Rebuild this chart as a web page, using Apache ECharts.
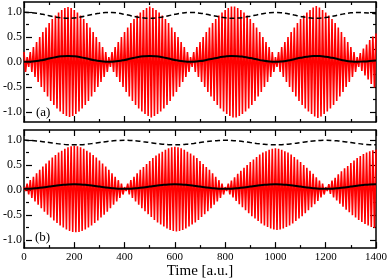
<!DOCTYPE html>
<html><head><meta charset="utf-8">
<script src="https://cdn.jsdelivr.net/npm/echarts@6/dist/echarts.min.js"></script>
<style>html,body{margin:0;padding:0;background:#fff}#c{width:390px;height:280px}</style>
</head><body><div id="c"></div>
<script>
// ---- data ----
const timeMax = 1400;
const xTickLabels = ['0','200','400','600','800','1000','1200','1400'];
const yTickLabels = ['-1.0','-0.5','0.0','0.5','1.0'];
const panelLabels = ['(a)', '(b)'];
const xTitle = 'Time [a.u.]';

// red fast oscillation: peak amplitude of each cycle (one cycle = 12.5 a.u.)
const cycleStep = 12.5;
const redAmpA = [
 0.20,0.10,
 0.20,0.30,0.40,0.50,0.60,0.69,0.78,0.86,0.93,0.99,1.04,1.08,1.10,
 1.08,1.04,0.99,0.93,0.86,0.78,0.69,0.60,0.50,0.40,0.30,0.20,0.10,
 0.20,0.30,0.40,0.50,0.60,0.69,0.78,0.86,0.93,0.99,1.04,1.08,1.11,
 1.08,1.04,0.99,0.93,0.86,0.78,0.69,0.60,0.50,0.40,0.30,0.20,0.10,
 0.20,0.30,0.40,0.50,0.60,0.69,0.78,0.86,0.93,0.99,1.04,1.08,1.11,1.11,
 1.08,1.04,0.99,0.93,0.86,0.78,0.69,0.60,0.50,0.40,0.30,0.20,0.10,
 0.20,0.30,0.40,0.50,0.60,0.69,0.78,0.86,0.93,0.99,1.04,1.09,1.12,
 1.09,1.04,0.99,0.93,0.86,0.78,0.69,0.60,0.50,0.40,0.30,0.20,0.10,
 0.18,0.27,0.35,0.44,0.51,0.57
];
const redAmpB = [
 0.04,
 0.11,0.18,0.25,0.32,0.39,0.46,0.52,0.58,0.64,0.69,0.74,0.78,0.82,0.85,0.87,0.88,
 0.87,0.85,0.82,0.78,0.74,0.69,0.64,0.58,0.52,0.46,0.39,0.32,0.25,0.18,0.11,0.04,
 0.11,0.18,0.25,0.32,0.39,0.45,0.51,0.57,0.63,0.68,0.72,0.76,0.80,0.83,0.85,0.86,
 0.85,0.83,0.80,0.76,0.72,0.68,0.63,0.57,0.51,0.45,0.39,0.32,0.25,0.18,0.11,0.04,
 0.11,0.17,0.24,0.31,0.37,0.43,0.49,0.55,0.60,0.65,0.70,0.74,0.77,0.80,0.82,0.83,
 0.82,0.80,0.77,0.74,0.70,0.65,0.60,0.55,0.49,0.43,0.37,0.31,0.24,0.17,0.11,0.04,
 0.10,0.17,0.23,0.30,0.36,0.42,0.47,0.53,0.58,0.63,0.67,0.71,0.74,0.77,0.79,0.80
];

// slow curves sampled every 25 a.u.
const slowStep = 25;
const blackA = [
 0.007,0.007,0.019,0.042,0.069,0.095,0.113,0.120,0.113,0.095,0.069,0.042,0.019,0.007,
 0.007,0.019,0.042,0.069,0.095,0.113,0.120,0.113,0.095,0.069,0.042,0.019,0.007,
 0.007,0.018,0.040,0.066,0.091,0.111,0.120,0.117,0.102,0.079,0.053,0.028,0.011,0.005,
 0.012,0.030,0.056,0.083,0.106,0.118,0.118,0.106,0.083,0.056,0.030,0.012,0.005,
 0.010,0.018,0.028
];
const dashA = [
 0.995,0.988,0.976,0.953,0.926,0.900,0.882,0.875,0.882,0.900,0.926,0.953,0.976,0.988,
 0.988,0.976,0.953,0.926,0.900,0.882,0.875,0.882,0.900,0.926,0.953,0.976,0.988,
 0.988,0.977,0.955,0.929,0.904,0.884,0.875,0.878,0.893,0.916,0.942,0.967,0.984,0.990,
 0.983,0.965,0.939,0.912,0.889,0.877,0.877,0.889,0.912,0.939,0.965,0.983,0.990,
 0.985,0.977,0.967
];
const blackB = [
 0.004,0.008,0.018,0.032,0.050,0.068,0.083,0.093,0.096,0.093,0.083,0.068,0.050,0.032,0.018,0.008,
 0.004,0.008,0.018,0.032,0.050,0.068,0.083,0.093,0.096,0.093,0.083,0.068,0.050,0.032,0.018,0.008,
 0.004,0.008,0.018,0.032,0.050,0.068,0.083,0.093,0.096,0.093,0.083,0.068,0.050,0.032,0.018,0.008,
 0.004,0.008,0.018,0.032,0.050,0.068,0.083,0.093,0.096
];
const dashB = [
 0.995,0.987,0.977,0.963,0.945,0.927,0.912,0.902,0.899,0.902,0.912,0.927,0.945,0.963,0.977,0.987,
 0.991,0.987,0.977,0.963,0.945,0.927,0.912,0.902,0.899,0.902,0.912,0.927,0.945,0.963,0.977,0.987,
 0.991,0.987,0.977,0.963,0.945,0.927,0.912,0.902,0.899,0.902,0.912,0.927,0.945,0.963,0.977,0.987,
 0.991,0.987,0.977,0.963,0.945,0.927,0.912,0.902,0.899
];

// ---- build series points ----
function zigzag(amps){
  const pts = [];
  amps.forEach((a,k)=>{
    pts.push([k*cycleStep, a]);
    pts.push([k*cycleStep + cycleStep/2, -a]);
  });
  return pts.filter(p=>p[0] <= timeMax);
}
function slow(vals){ return vals.map((v,i)=>[i*slowStep, v]); }

const FONT = 'Liberation Serif';
const frameLine = {show:true, onZero:false, lineStyle:{color:'#000', width:1.5}};
function xAx(grid, pos, labels, name){
  return {
    type:'value', gridIndex:grid, position:pos, min:0, max:timeMax, interval:200,
    axisLine: frameLine,
    axisTick:{show:true, inside:true, length:6, lineStyle:{color:'#000', width:1.2}},
    minorTick:{show:true, splitNumber:2, length:3, lineStyle:{color:'#000', width:1.2}},
    splitLine:{show:false}, minorSplitLine:{show:false},
    axisLabel:{show:labels, margin:4, color:'#000', fontFamily:FONT, fontSize:11,
      formatter:(v)=>xTickLabels[Math.round(v/200)]},
    name: name || '', nameLocation:'middle', nameGap:15,
    nameTextStyle:{fontFamily:FONT, fontSize:15, color:'#000', verticalAlign:'top'}
  };
}
function hiddenX(grid){ return {type:'value', gridIndex:grid, min:0, max:timeMax, show:false,
  axisLine:{show:false, onZero:false}}; }
function frameY(grid, pos){
  return {type:'value', gridIndex:grid, position:pos, min:-1.2, max:1.2,
    axisLine: frameLine, axisTick:{show:false}, axisLabel:{show:false},
    splitLine:{show:false}};
}
function tickY(grid, pos, labels){
  return {type:'value', gridIndex:grid, position:pos, min:-1, max:1, interval:0.5,
    axisLine:{show:false, onZero:false},
    axisTick:{show:true, inside:true, length:6, lineStyle:{color:'#000', width:1.2}},
    minorTick:{show:true, splitNumber:2, length:3, lineStyle:{color:'#000', width:1.2}},
    splitLine:{show:false}, minorSplitLine:{show:false},
    axisLabel:{show:labels, margin:4, color:'#000', fontFamily:FONT, fontSize:12,
      formatter:(v)=>yTickLabels[Math.round((v+1)/0.5)]}};
}

function panelSeries(xi, yi, red, black, dash){
  return [
    {type:'line', xAxisIndex:xi, yAxisIndex:yi, data:zigzag(red), showSymbol:false, symbol:'none',
      sampling:null, lineStyle:{color:'#ff0000', width:1.6}, z:2},
    {type:'line', xAxisIndex:xi, yAxisIndex:yi, data:slow(black), showSymbol:false, symbol:'none',
      smooth:true, lineStyle:{color:'#000', width:2}, z:3},
    {type:'line', xAxisIndex:xi, yAxisIndex:yi, data:slow(dash), showSymbol:false, symbol:'none',
      smooth:true, lineStyle:{color:'#000', width:1.5, type:[5,3]}, z:4}
  ];
}

const chart = echarts.init(document.getElementById('c'), null, {renderer:'canvas'});
chart.setOption({
  animation:false,
  backgroundColor:'#fff',
  grid:[
    {left:24, right:14, top:2, height:120},
    {left:24, right:14, top:12, height:100},
    {left:24, right:14, top:130, height:120},
    {left:24, right:14, top:140, height:100}
  ],
  xAxis:[
    xAx(0,'bottom',false), xAx(0,'top',false), hiddenX(1),
    xAx(2,'bottom',true, xTitle), xAx(2,'top',false), hiddenX(3)
  ],
  yAxis:[
    frameY(0,'left'), frameY(0,'right'), tickY(1,'left',true), tickY(1,'right',false),
    frameY(2,'left'), frameY(2,'right'), tickY(3,'left',true), tickY(3,'right',false)
  ],
  series:[].concat(
    panelSeries(0,0,redAmpA,blackA,dashA),
    panelSeries(3,4,redAmpB,blackB,dashB)
  ),
  graphic:[
    {type:'text', left:36, top:106, style:{text:panelLabels[0], font:'13px "Liberation Serif"', fill:'#000'}},
    {type:'text', left:35, top:231, style:{text:panelLabels[1], font:'13px "Liberation Serif"', fill:'#000'}}
  ]
});
</script></body></html>
